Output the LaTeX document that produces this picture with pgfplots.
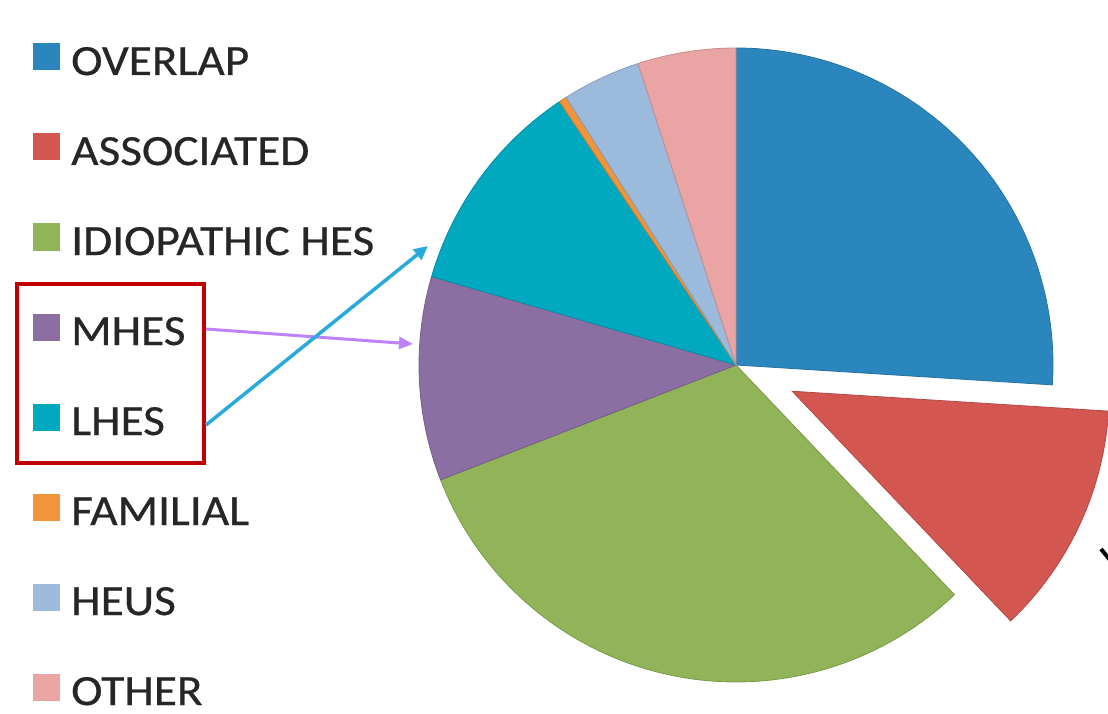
\documentclass[border=0pt]{standalone}
\usepackage{pgfplots}
\pgfplotsset{compat=1.18}
\usepackage{pgfplotstable}
\usepackage{fontspec}
\setmainfont{Carlito}
\newfontfamily\legfont{Carlito}[FakeStretch=1.1,FakeBold=0.6]
\usetikzlibrary{calc,arrows.meta}
\definecolor{cOver}{RGB}{44,134,190}
\definecolor{cAssoc}{RGB}{211,86,80}
\definecolor{cIdio}{RGB}{146,180,88}
\definecolor{cMhes}{RGB}{139,111,163}
\definecolor{cLhes}{RGB}{0,168,192}
\definecolor{cFam}{RGB}{242,148,58}
\definecolor{cHeus}{RGB}{156,186,220}
\definecolor{cOther}{RGB}{234,164,164}
\definecolor{boxred}{RGB}{192,0,0}
\definecolor{arrPurple}{RGB}{190,130,250}
\definecolor{arrBlue}{RGB}{40,170,220}
% share of each group, percent; explode = offset of the slice (px)
\pgfplotstableread{
label pct col explode
OVERLAP 26.0 cOver 0
ASSOCIATED 11.9 cAssoc 62
{IDIOPATHIC HES} 31.2 cIdio 0
MHES 10.4 cMhes 0
LHES 11.1 cLhes 0
FAMILIAL 0.4 cFam 0
HEUS 4.0 cHeus 0
OTHER 5.0 cOther 0
}\piedata
\begin{document}
\begin{tikzpicture}
\begin{axis}[
  width=1108pt, height=714pt, scale only axis,
  xmin=0, xmax=1108, ymin=0, ymax=714, y dir=reverse,
  hide axis, clip=false]
\pgfplotsextra{
  \xdef\cumangle{90}
  \foreach \i in {0,...,7} {
    \pgfplotstablegetelem{\i}{pct}\of\piedata \let\p\pgfplotsretval
    \pgfplotstablegetelem{\i}{col}\of\piedata \let\c\pgfplotsretval
    \pgfplotstablegetelem{\i}{explode}\of\piedata \let\ex\pgfplotsretval
    \pgfplotstablegetelem{\i}{label}\of\piedata \let\lab\pgfplotsretval
    \pgfmathsetmacro\sweep{3.6*\p}
    \pgfmathsetmacro\eA{\cumangle-\sweep}
    \pgfmathsetmacro\midA{\cumangle-\sweep/2}
    \fill[\c, draw=\c!85!black, line width=0.8pt]
      ($(axis cs:736,365)+(\midA:\ex pt)$) -- ++(\cumangle:317pt)
      arc[start angle=\cumangle, end angle=\eA, radius=317pt] -- cycle;
    \xdef\cumangle{\eA}
    % legend entry
    \pgfmathsetmacro\ly{57+90*\i}
    \fill[\c] (axis cs:33,\ly-13.5) rectangle (axis cs:60,\ly+13.5);
    \node[anchor=base west, inner sep=0pt, text=black!85, font=\legfont\fontsize{43}{46}\selectfont]
      at (axis cs:71,\ly+18) {\lab};
  }
  \draw[boxred, line width=4pt] (axis cs:17,284) rectangle (axis cs:204,463);
  \draw[arrPurple, line width=3pt, -{Triangle[length=14pt,width=12pt]}]
    (axis cs:206,329) -- (axis cs:413,344);
  \draw[arrBlue, line width=3.5pt, -{Triangle[length=14pt,width=13pt]}]
    (axis cs:206,425) -- (axis cs:428,246);
  \draw[black, line width=4pt] (axis cs:1101,549) -- (axis cs:1110,560);
}
\end{axis}
\pgfresetboundingbox
\path (0,0) rectangle (1108pt,714pt);
\end{tikzpicture}
\end{document}
